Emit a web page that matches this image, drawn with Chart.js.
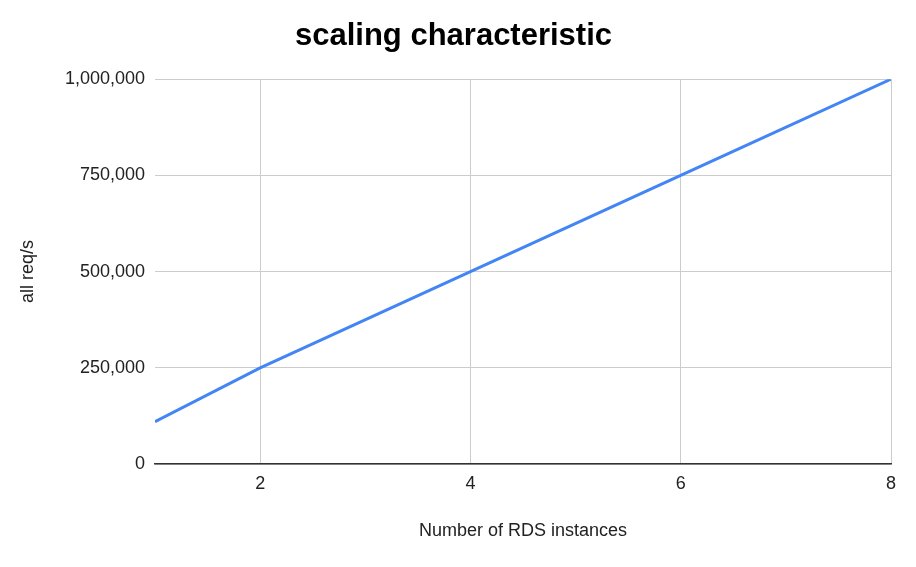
<!DOCTYPE html>
<html>
<head>
<meta charset="utf-8">
<script src="https://cdn.jsdelivr.net/npm/chart.js@4"></script>
<style>
	html, body { margin: 0; padding: 0; background: #fff; }
	#wrap { width: 916px; height: 567px; }
</style>
</head>
<body>
<div id="wrap"><canvas id="scalingChart" width="916" height="567"></canvas></div>
<script>
// Datos
const instancias = [1, 2, 4, 6, 8];
const peticiones = [110000, 250000, 500000, 750000, 1000000];
const ticksX = [2, 4, 6, 8];
const ticksY = [0, 250000, 500000, 750000, 1000000];

const fuente = "'Liberation Sans', Arial, sans-serif";

const ctx = document.getElementById("scalingChart").getContext("2d");
new Chart(ctx, {
	type: "line",
	data: {
		datasets: [
			{
				label: "all req/s",
				data: instancias.map((x, i) => ({ x: x, y: peticiones[i] })),
				borderColor: "#4285f4",
				borderWidth: 3,
				pointRadius: 0,
				tension: 0,
			},
		],
	},
	options: {
		responsive: false,
		animation: false,
		layout: { padding: { top: 0, right: 25, bottom: 0, left: 16 } },
		plugins: {
			legend: { display: false },
			tooltip: { enabled: false },
			title: {
				display: true,
				text: "scaling characteristic",
				color: "#000",
				font: { family: fuente, size: 31, weight: "bold" },
				padding: { top: 18, bottom: 24 },
			},
		},
		scales: {
			x: {
				type: "linear",
				min: 1,
				max: 8,
				afterBuildTicks: (scale) => {
					scale.ticks = ticksX.map((v) => ({ value: v }));
				},
				afterFit: (scale) => {
					scale.height = 103;
				},
				grid: { color: "#cccccc", drawTicks: false },
				border: { display: true, color: "#333333", width: 1.5 },
				ticks: {
					color: "#222",
					padding: 9,
					font: { family: fuente, size: 18 },
				},
				title: {
					display: true,
					text: "Number of RDS instances",
					color: "#222",
					font: { family: fuente, size: 18 },
					padding: { top: 0, bottom: 25 },
				},
			},
			y: {
				min: 0,
				max: 1000000,
				afterBuildTicks: (scale) => {
					scale.ticks = ticksY.map((v) => ({ value: v }));
				},
				afterFit: (scale) => {
					scale.width = 139;
				},
				grid: { color: "#cccccc", drawTicks: false },
				border: { display: false },
				ticks: {
					color: "#222",
					padding: 10,
					font: { family: fuente, size: 18 },
					callback: (v) => v.toLocaleString("en-US"),
				},
				title: {
					display: true,
					text: "all req/s",
					color: "#222",
					font: { family: fuente, size: 18 },
					padding: { top: 1, bottom: 1 },
				},
			},
		},
	},
});
</script>
</body>
</html>
